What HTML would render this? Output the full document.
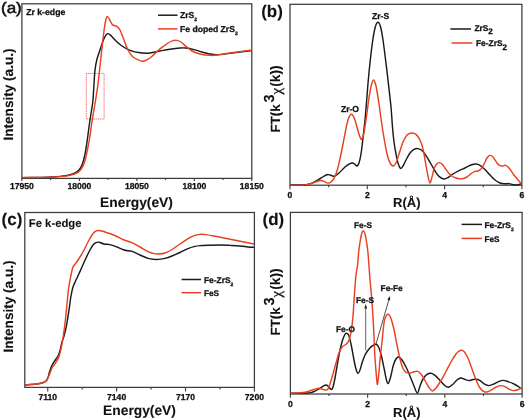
<!DOCTYPE html>
<html lang="en"><head><meta charset="utf-8"><title>XANES and EXAFS spectra</title>
<style>
html,body{margin:0;padding:0;background:#fff;}
body{width:525px;height:420px;overflow:hidden;}
svg{display:block;font-family:"Liberation Sans",Arial,sans-serif;fill:#111;text-rendering:geometricPrecision;}
</style></head><body>
<svg width="525" height="420" viewBox="0 0 525 420">
<rect width="525" height="420" fill="#fff"/>
<defs><clipPath id="ca"><rect x="21.30" y="3.20" width="231.10" height="175.90"/></clipPath><clipPath id="cb"><rect x="289.40" y="3.70" width="233.10" height="182.20"/></clipPath><clipPath id="cc"><rect x="24.20" y="211.90" width="230.80" height="176.20"/></clipPath><clipPath id="cd"><rect x="289.80" y="211.80" width="232.90" height="182.90"/></clipPath></defs>
<rect x="21.90" y="3.80" width="229.90" height="174.60" fill="none" stroke="#3c3c40" stroke-width="1.25"/>
<rect x="86.3" y="73.4" width="17.8" height="45.6" fill="none" stroke="#ee5548" stroke-width="0.9" stroke-dasharray="1.1 0.7"/>
<g clip-path="url(#ca)">
<path d="M21.60 177.60C24.67 177.57 34.93 177.50 40.00 177.40C45.07 177.30 47.67 177.30 52.00 177.00C56.33 176.70 62.33 176.20 66.00 175.60C69.67 175.00 71.83 174.33 74.00 173.40C76.17 172.47 77.60 171.57 79.00 170.00C80.40 168.43 81.40 166.67 82.40 164.00C83.40 161.33 84.23 157.67 85.00 154.00C85.77 150.33 86.40 146.00 87.00 142.00C87.60 138.00 88.10 133.67 88.60 130.00C89.10 126.33 89.50 123.33 90.00 120.00C90.50 116.67 91.10 113.33 91.60 110.00C92.10 106.67 92.60 104.33 93.00 100.00C93.40 95.67 93.67 89.00 94.00 84.00C94.33 79.00 94.50 74.17 95.00 70.00C95.50 65.83 96.17 62.33 97.00 59.00C97.83 55.67 99.00 53.00 100.00 50.00C101.00 47.00 102.07 43.40 103.00 41.00C103.93 38.60 104.77 36.83 105.60 35.60C106.43 34.37 107.10 33.60 108.00 33.60C108.90 33.60 109.67 34.37 111.00 35.60C112.33 36.83 114.17 39.27 116.00 41.00C117.83 42.73 119.67 44.43 122.00 46.00C124.33 47.57 127.00 49.27 130.00 50.40C133.00 51.53 136.67 52.37 140.00 52.80C143.33 53.23 146.67 53.30 150.00 53.00C153.33 52.70 156.67 51.63 160.00 51.00C163.33 50.37 166.67 49.70 170.00 49.20C173.33 48.70 177.33 48.20 180.00 48.00C182.67 47.80 183.67 47.73 186.00 48.00C188.33 48.27 191.33 48.93 194.00 49.60C196.67 50.27 199.33 51.27 202.00 52.00C204.67 52.73 207.33 53.57 210.00 54.00C212.67 54.43 214.67 54.70 218.00 54.60C221.33 54.50 226.33 53.83 230.00 53.40C233.67 52.97 236.33 52.47 240.00 52.00C243.67 51.53 250.00 50.83 252.00 50.60" fill="none" stroke="#1a1a1a" stroke-width="1.45" stroke-linejoin="round" stroke-linecap="butt"/>
<path d="M21.60 177.60C24.67 177.57 33.60 177.57 40.00 177.40C46.40 177.23 55.00 176.93 60.00 176.60C65.00 176.27 67.00 176.10 70.00 175.40C73.00 174.70 76.00 173.63 78.00 172.40C80.00 171.17 80.80 170.07 82.00 168.00C83.20 165.93 84.27 163.17 85.20 160.00C86.13 156.83 86.80 153.00 87.60 149.00C88.40 145.00 89.33 140.17 90.00 136.00C90.67 131.83 91.00 128.00 91.60 124.00C92.20 120.00 92.93 116.00 93.60 112.00C94.27 108.00 94.87 104.67 95.60 100.00C96.33 95.33 97.27 89.67 98.00 84.00C98.73 78.33 99.27 72.67 100.00 66.00C100.73 59.33 101.67 50.33 102.40 44.00C103.13 37.67 103.80 32.17 104.40 28.00C105.00 23.83 105.50 20.90 106.00 19.00C106.50 17.10 106.82 16.52 107.40 16.60C107.98 16.68 108.67 18.17 109.50 19.50C110.33 20.83 111.15 23.42 112.40 24.60C113.65 25.78 115.73 25.70 117.00 26.60C118.27 27.50 118.83 27.77 120.00 30.00C121.17 32.23 122.67 36.67 124.00 40.00C125.33 43.33 126.50 47.17 128.00 50.00C129.50 52.83 131.00 55.23 133.00 57.00C135.00 58.77 138.17 59.93 140.00 60.60C141.83 61.27 142.33 61.43 144.00 61.00C145.67 60.57 148.00 59.43 150.00 58.00C152.00 56.57 154.00 54.17 156.00 52.40C158.00 50.63 160.00 48.97 162.00 47.40C164.00 45.83 166.17 44.13 168.00 43.00C169.83 41.87 171.50 41.03 173.00 40.60C174.50 40.17 175.67 40.17 177.00 40.40C178.33 40.63 179.50 41.00 181.00 42.00C182.50 43.00 184.17 44.90 186.00 46.40C187.83 47.90 189.67 49.73 192.00 51.00C194.33 52.27 197.00 53.27 200.00 54.00C203.00 54.73 207.00 55.23 210.00 55.40C213.00 55.57 214.67 55.40 218.00 55.00C221.33 54.60 226.33 53.57 230.00 53.00C233.67 52.43 236.33 52.10 240.00 51.60C243.67 51.10 250.00 50.27 252.00 50.00" fill="none" stroke="#e9401f" stroke-width="1.45" stroke-linejoin="round" stroke-linecap="butt"/>
</g>
<path d="M21.90 178.40v2.60M79.38 178.40v2.60M136.85 178.40v2.60M194.33 178.40v2.60M251.80 178.40v2.60" stroke="#3c3c40" stroke-width="1.10" fill="none"/>
<path d="M50.64 178.40v1.50M108.11 178.40v1.50M165.59 178.40v1.50M223.06 178.40v1.50" stroke="#3c3c40" stroke-width="1.10" fill="none"/>
<text x="21.90" y="189.10" font-size="8.60" font-weight="bold" text-anchor="middle" stroke="#111" stroke-width="0.28">17950</text>
<text x="79.38" y="189.10" font-size="8.60" font-weight="bold" text-anchor="middle" stroke="#111" stroke-width="0.28">18000</text>
<text x="136.85" y="189.10" font-size="8.60" font-weight="bold" text-anchor="middle" stroke="#111" stroke-width="0.28">18050</text>
<text x="194.33" y="189.10" font-size="8.60" font-weight="bold" text-anchor="middle" stroke="#111" stroke-width="0.28">18100</text>
<text x="251.80" y="189.10" font-size="8.60" font-weight="bold" text-anchor="middle" stroke="#111" stroke-width="0.28">18150</text>
<text x="136.50" y="207.00" font-size="13.80" font-weight="bold" text-anchor="middle" stroke="#111" stroke-width="0.10">Energy(eV)</text>
<text transform="translate(13.3,94.5) rotate(-90)" font-size="13.6" font-weight="bold" stroke="#111" stroke-width="0.1" text-anchor="middle">Intensity (a.u.)</text>
<text transform="translate(1.0,12.9) scale(1.12,1)" font-size="15.2" stroke="#111" stroke-width="0.55">(a)</text>
<text x="26.20" y="14.90" font-size="8.70" font-weight="bold" text-anchor="start" stroke="#111" stroke-width="0.28">Zr k-edge</text>
<path d="M158 15.2H177.5" stroke="#1a1a1a" stroke-width="1.5"/>
<path d="M158 28.9H177.5" stroke="#e9401f" stroke-width="1.5"/>
<text x="180.00" y="18.00" font-size="8.60" font-weight="bold" text-anchor="start" stroke="#111" stroke-width="0.28">ZrS<tspan font-size="5.00" dy="3.10">2</tspan></text>
<text x="180.00" y="32.00" font-size="8.60" font-weight="bold" text-anchor="start" stroke="#111" stroke-width="0.28">Fe doped ZrS<tspan font-size="5.00" dy="3.10">2</tspan></text>
<rect x="290.00" y="4.30" width="231.90" height="180.90" fill="none" stroke="#3c3c40" stroke-width="1.25"/>
<g clip-path="url(#cb)">
<path d="M290.40 185.00C292.50 185.00 300.07 185.12 303.00 185.00C305.93 184.88 306.33 184.70 308.00 184.30C309.67 183.90 310.83 183.65 313.00 182.60C315.17 181.55 319.00 179.17 321.00 178.00C323.00 176.83 323.78 176.17 325.00 175.60C326.22 175.03 327.13 174.58 328.30 174.60C329.47 174.62 330.97 175.43 332.00 175.70C333.03 175.97 333.33 176.65 334.50 176.20C335.67 175.75 337.25 174.53 339.00 173.00C340.75 171.47 343.17 168.57 345.00 167.00C346.83 165.43 348.73 164.27 350.00 163.60C351.27 162.93 351.77 162.87 352.60 163.00C353.43 163.13 354.27 163.90 355.00 164.40C355.73 164.90 356.33 166.23 357.00 166.00C357.67 165.77 358.33 165.00 359.00 163.00C359.67 161.00 360.33 158.17 361.00 154.00C361.67 149.83 362.33 143.67 363.00 138.00C363.67 132.33 364.38 126.33 365.00 120.00C365.62 113.67 366.15 106.67 366.70 100.00C367.25 93.33 367.70 86.67 368.30 80.00C368.90 73.33 369.55 66.67 370.30 60.00C371.05 53.33 371.97 45.50 372.80 40.00C373.63 34.50 374.45 29.95 375.30 27.00C376.15 24.05 377.02 22.30 377.90 22.30C378.78 22.30 379.75 24.05 380.60 27.00C381.45 29.95 382.17 34.50 383.00 40.00C383.83 45.50 384.77 53.33 385.60 60.00C386.43 66.67 387.08 72.00 388.00 80.00C388.92 88.00 390.37 100.33 391.10 108.00C391.83 115.67 391.92 120.33 392.40 126.00C392.88 131.67 393.40 137.33 394.00 142.00C394.60 146.67 395.33 150.50 396.00 154.00C396.67 157.50 397.23 160.60 398.00 163.00C398.77 165.40 399.77 167.90 400.60 168.40C401.43 168.90 402.10 167.40 403.00 166.00C403.90 164.60 404.83 162.17 406.00 160.00C407.17 157.83 408.67 154.77 410.00 153.00C411.33 151.23 412.77 150.13 414.00 149.40C415.23 148.67 416.17 148.50 417.40 148.60C418.63 148.70 419.97 148.83 421.40 150.00C422.83 151.17 424.40 153.27 426.00 155.60C427.60 157.93 429.50 161.43 431.00 164.00C432.50 166.57 433.67 168.93 435.00 171.00C436.33 173.07 437.50 175.07 439.00 176.40C440.50 177.73 442.50 178.80 444.00 179.00C445.50 179.20 446.50 178.43 448.00 177.60C449.50 176.77 451.17 175.17 453.00 174.00C454.83 172.83 457.00 171.60 459.00 170.60C461.00 169.60 463.00 168.93 465.00 168.00C467.00 167.07 469.17 165.67 471.00 165.00C472.83 164.33 474.50 163.93 476.00 164.00C477.50 164.07 478.50 164.47 480.00 165.40C481.50 166.33 483.33 168.00 485.00 169.60C486.67 171.20 488.33 173.27 490.00 175.00C491.67 176.73 493.33 178.67 495.00 180.00C496.67 181.33 498.33 182.37 500.00 183.00C501.67 183.63 503.50 183.70 505.00 183.80C506.50 183.90 507.67 183.47 509.00 183.60C510.33 183.73 511.67 184.37 513.00 184.60C514.33 184.83 515.60 185.17 517.00 185.00C518.40 184.83 520.67 183.83 521.40 183.60" fill="none" stroke="#1a1a1a" stroke-width="1.45" stroke-linejoin="round" stroke-linecap="butt"/>
<path d="M290.40 185.10C292.33 185.10 299.23 185.18 302.00 185.10C304.77 185.02 305.33 184.92 307.00 184.60C308.67 184.28 310.33 183.72 312.00 183.20C313.67 182.68 315.55 181.95 317.00 181.50C318.45 181.05 319.53 180.52 320.70 180.50C321.87 180.48 322.80 180.97 324.00 181.40C325.20 181.83 326.73 183.00 327.90 183.10C329.07 183.20 329.98 182.78 331.00 182.00C332.02 181.22 332.95 180.40 334.00 178.40C335.05 176.40 336.30 173.32 337.30 170.00C338.30 166.68 339.05 162.83 340.00 158.50C340.95 154.17 342.05 148.75 343.00 144.00C343.95 139.25 344.82 134.17 345.70 130.00C346.58 125.83 347.35 121.63 348.30 119.00C349.25 116.37 350.35 114.20 351.40 114.20C352.45 114.20 353.52 116.28 354.60 119.00C355.68 121.72 357.00 127.50 357.90 130.50C358.80 133.50 359.38 135.52 360.00 137.00C360.62 138.48 360.98 139.90 361.60 139.40C362.22 138.90 362.97 137.23 363.70 134.00C364.43 130.77 365.12 126.00 366.00 120.00C366.88 114.00 368.10 103.83 369.00 98.00C369.90 92.17 370.65 88.00 371.40 85.00C372.15 82.00 372.73 79.83 373.50 80.00C374.27 80.17 375.08 82.00 376.00 86.00C376.92 90.00 378.08 98.00 379.00 104.00C379.92 110.00 380.67 116.33 381.50 122.00C382.33 127.67 383.15 133.00 384.00 138.00C384.85 143.00 385.70 148.07 386.60 152.00C387.50 155.93 388.33 159.27 389.40 161.60C390.47 163.93 391.90 165.77 393.00 166.00C394.10 166.23 395.00 165.00 396.00 163.00C397.00 161.00 397.83 157.50 399.00 154.00C400.17 150.50 401.67 145.17 403.00 142.00C404.33 138.83 405.60 136.50 407.00 135.00C408.40 133.50 409.90 133.10 411.40 133.00C412.90 132.90 414.57 133.23 416.00 134.40C417.43 135.57 418.83 137.57 420.00 140.00C421.17 142.43 422.10 145.33 423.00 149.00C423.90 152.67 424.57 157.50 425.40 162.00C426.23 166.50 427.23 172.50 428.00 176.00C428.77 179.50 429.33 182.83 430.00 183.00C430.67 183.17 431.33 179.33 432.00 177.00C432.67 174.67 433.23 171.17 434.00 169.00C434.77 166.83 435.77 165.07 436.60 164.00C437.43 162.93 438.10 162.60 439.00 162.60C439.90 162.60 440.83 162.85 442.00 164.00C443.17 165.15 444.50 167.58 446.00 169.50C447.50 171.42 449.17 174.03 451.00 175.50C452.83 176.97 455.17 177.75 457.00 178.30C458.83 178.85 460.33 179.02 462.00 178.80C463.67 178.58 465.33 177.97 467.00 177.00C468.67 176.03 470.67 173.93 472.00 173.00C473.33 172.07 474.00 171.73 475.00 171.40C476.00 171.07 477.00 171.40 478.00 171.00C479.00 170.60 480.00 170.17 481.00 169.00C482.00 167.83 483.00 165.83 484.00 164.00C485.00 162.17 486.00 159.43 487.00 158.00C488.00 156.57 489.00 155.57 490.00 155.40C491.00 155.23 491.83 155.73 493.00 157.00C494.17 158.27 495.83 161.57 497.00 163.00C498.17 164.43 499.00 165.10 500.00 165.60C501.00 166.10 502.07 166.03 503.00 166.00C503.93 165.97 504.60 165.07 505.60 165.40C506.60 165.73 507.60 166.40 509.00 168.00C510.40 169.60 512.50 173.00 514.00 175.00C515.50 177.00 516.77 178.57 518.00 180.00C519.23 181.43 520.83 183.00 521.40 183.60" fill="none" stroke="#e9401f" stroke-width="1.45" stroke-linejoin="round" stroke-linecap="butt"/>
</g>
<path d="M290.00 185.20v4.10M367.30 185.20v4.10M444.60 185.20v4.10M521.90 185.20v4.10" stroke="#3c3c40" stroke-width="1.10" fill="none"/>
<path d="M328.65 185.20v2.10M405.95 185.20v2.10M483.25 185.20v2.10" stroke="#3c3c40" stroke-width="1.10" fill="none"/>
<text x="290.00" y="198.10" font-size="8.60" font-weight="bold" text-anchor="middle" stroke="#111" stroke-width="0.28">0</text>
<text x="367.30" y="198.10" font-size="8.60" font-weight="bold" text-anchor="middle" stroke="#111" stroke-width="0.28">2</text>
<text x="444.60" y="198.10" font-size="8.60" font-weight="bold" text-anchor="middle" stroke="#111" stroke-width="0.28">4</text>
<text x="521.90" y="198.10" font-size="8.60" font-weight="bold" text-anchor="middle" stroke="#111" stroke-width="0.28">6</text>
<text x="406.80" y="207.20" font-size="13.00" font-weight="bold" text-anchor="middle" stroke="#111" stroke-width="0.10">R(Å)</text>
<g transform="translate(279.90,131.40) rotate(-90)" font-weight="bold" stroke="#111" stroke-width="0.1">
<text x="-1" y="0" font-size="13.3">FT(k</text>
<text x="28.8" y="-6.1" font-size="14.5">3</text>
<text x="36.9" y="1.3" font-size="14.9" font-weight="normal" stroke-width="0.3" font-family="'Liberation Serif',serif">χ</text>
<text x="44.6" y="0" font-size="13.8">(k))</text>
</g>
<text x="261.20" y="17.40" font-size="17.00" font-weight="bold" text-anchor="start" stroke="#111" stroke-width="0.10">(b)</text>
<text x="372.00" y="19.40" font-size="8.60" font-weight="bold" text-anchor="start" stroke="#111" stroke-width="0.28">Zr-S</text>
<text x="340.90" y="112.40" font-size="8.60" font-weight="bold" text-anchor="start" stroke="#111" stroke-width="0.28">Zr-O</text>
<path d="M450.4 29H471" stroke="#1a1a1a" stroke-width="1.5"/>
<path d="M451.6 43H472.4" stroke="#e9401f" stroke-width="1.5"/>
<text x="474.40" y="31.00" font-size="8.40" font-weight="bold" text-anchor="start" stroke="#111" stroke-width="0.28">ZrS<tspan font-size="8.00" dy="3.40">2</tspan></text>
<text x="476.00" y="46.40" font-size="8.40" font-weight="bold" text-anchor="start" stroke="#111" stroke-width="0.28">Fe-ZrS<tspan font-size="8.00" dy="3.40">2</tspan></text>
<rect x="24.80" y="212.50" width="229.60" height="174.90" fill="none" stroke="#3c3c40" stroke-width="1.25"/>
<g clip-path="url(#cc)">
<path d="M25.30 385.00C27.08 384.83 33.22 384.33 36.00 384.00C38.78 383.67 40.33 383.50 42.00 383.00C43.67 382.50 45.00 381.92 46.00 381.00C47.00 380.08 47.42 379.00 48.00 377.50C48.58 376.00 48.90 373.92 49.50 372.00C50.10 370.08 50.68 367.92 51.60 366.00C52.52 364.08 53.93 362.17 55.00 360.50C56.07 358.83 57.17 357.67 58.00 356.00C58.83 354.33 59.33 352.83 60.00 350.50C60.67 348.17 61.33 344.42 62.00 342.00C62.67 339.58 63.27 338.67 64.00 336.00C64.73 333.33 65.57 330.33 66.40 326.00C67.23 321.67 68.23 315.00 69.00 310.00C69.77 305.00 70.33 299.83 71.00 296.00C71.67 292.17 72.17 289.67 73.00 287.00C73.83 284.33 75.33 281.50 76.00 280.00C76.67 278.50 76.00 280.17 77.00 278.00C78.00 275.83 80.50 270.33 82.00 267.00C83.50 263.67 84.67 260.83 86.00 258.00C87.33 255.17 88.83 252.17 90.00 250.00C91.17 247.83 92.00 246.23 93.00 245.00C94.00 243.77 95.00 243.07 96.00 242.60C97.00 242.13 97.67 241.97 99.00 242.20C100.33 242.43 102.17 243.60 104.00 244.00C105.83 244.40 108.00 244.17 110.00 244.60C112.00 245.03 113.67 245.70 116.00 246.60C118.33 247.50 121.33 249.20 124.00 250.00C126.67 250.80 129.33 250.57 132.00 251.40C134.67 252.23 137.33 253.83 140.00 255.00C142.67 256.17 145.67 257.67 148.00 258.40C150.33 259.13 152.17 259.23 154.00 259.40C155.83 259.57 157.17 259.57 159.00 259.40C160.83 259.23 162.83 258.97 165.00 258.40C167.17 257.83 169.50 256.98 172.00 256.00C174.50 255.02 177.33 253.73 180.00 252.50C182.67 251.27 185.67 249.58 188.00 248.60C190.33 247.62 192.00 247.10 194.00 246.60C196.00 246.10 197.33 245.83 200.00 245.60C202.67 245.37 206.67 245.30 210.00 245.20C213.33 245.10 216.67 244.97 220.00 245.00C223.33 245.03 226.67 245.23 230.00 245.40C233.33 245.57 237.00 245.73 240.00 246.00C243.00 246.27 245.67 246.77 248.00 247.00C250.33 247.23 253.00 247.33 254.00 247.40" fill="none" stroke="#1a1a1a" stroke-width="1.45" stroke-linejoin="round" stroke-linecap="butt"/>
<path d="M25.30 385.00C27.08 384.83 33.22 384.33 36.00 384.00C38.78 383.67 40.33 383.50 42.00 383.00C43.67 382.50 45.00 381.83 46.00 381.00C47.00 380.17 47.33 379.33 48.00 378.00C48.67 376.67 49.33 374.67 50.00 373.00C50.67 371.33 51.17 369.57 52.00 368.00C52.83 366.43 54.00 365.10 55.00 363.60C56.00 362.10 57.17 360.77 58.00 359.00C58.83 357.23 59.33 355.50 60.00 353.00C60.67 350.50 61.40 347.17 62.00 344.00C62.60 340.83 63.00 338.33 63.60 334.00C64.20 329.67 65.03 323.00 65.60 318.00C66.17 313.00 66.53 308.67 67.00 304.00C67.47 299.33 67.90 294.00 68.40 290.00C68.90 286.00 69.57 282.50 70.00 280.00C70.43 277.50 70.50 277.17 71.00 275.00C71.50 272.83 72.17 269.00 73.00 267.00C73.83 265.00 74.83 264.67 76.00 263.00C77.17 261.33 78.67 259.17 80.00 257.00C81.33 254.83 82.67 252.50 84.00 250.00C85.33 247.50 86.67 244.50 88.00 242.00C89.33 239.50 90.83 236.73 92.00 235.00C93.17 233.27 94.00 232.35 95.00 231.60C96.00 230.85 96.83 230.60 98.00 230.50C99.17 230.40 100.83 230.75 102.00 231.00C103.17 231.25 103.67 231.57 105.00 232.00C106.33 232.43 108.17 232.93 110.00 233.60C111.83 234.27 113.67 234.93 116.00 236.00C118.33 237.07 121.33 238.90 124.00 240.00C126.67 241.10 129.33 241.43 132.00 242.60C134.67 243.77 137.33 245.50 140.00 247.00C142.67 248.50 145.67 250.50 148.00 251.60C150.33 252.70 152.17 253.20 154.00 253.60C155.83 254.00 157.17 254.10 159.00 254.00C160.83 253.90 162.83 253.75 165.00 253.00C167.17 252.25 169.50 251.00 172.00 249.50C174.50 248.00 177.33 245.82 180.00 244.00C182.67 242.18 185.67 240.00 188.00 238.60C190.33 237.20 192.00 236.30 194.00 235.60C196.00 234.90 198.00 234.57 200.00 234.40C202.00 234.23 203.67 234.33 206.00 234.60C208.33 234.87 211.00 235.43 214.00 236.00C217.00 236.57 220.67 237.33 224.00 238.00C227.33 238.67 230.67 239.33 234.00 240.00C237.33 240.67 240.67 241.33 244.00 242.00C247.33 242.67 252.33 243.67 254.00 244.00" fill="none" stroke="#e9401f" stroke-width="1.45" stroke-linejoin="round" stroke-linecap="butt"/>
</g>
<path d="M47.76 387.40v4.00M116.64 387.40v4.00M185.52 387.40v4.00M254.40 387.40v4.00" stroke="#3c3c40" stroke-width="1.10" fill="none"/>
<path d="M82.20 387.40v2.00M151.08 387.40v2.00M219.96 387.40v2.00" stroke="#3c3c40" stroke-width="1.10" fill="none"/>
<text x="47.76" y="400.40" font-size="8.60" font-weight="bold" text-anchor="middle" stroke="#111" stroke-width="0.28">7110</text>
<text x="116.64" y="400.40" font-size="8.60" font-weight="bold" text-anchor="middle" stroke="#111" stroke-width="0.28">7140</text>
<text x="185.52" y="400.40" font-size="8.60" font-weight="bold" text-anchor="middle" stroke="#111" stroke-width="0.28">7170</text>
<text x="254.40" y="400.40" font-size="8.60" font-weight="bold" text-anchor="middle" stroke="#111" stroke-width="0.28">7200</text>
<text x="139.50" y="415.20" font-size="13.80" font-weight="bold" text-anchor="middle" stroke="#111" stroke-width="0.10">Energy(eV)</text>
<text transform="translate(13.3,306.5) rotate(-90)" font-size="13.6" font-weight="bold" stroke="#111" stroke-width="0.1" text-anchor="middle">Intensity (a.u.)</text>
<text x="1.60" y="225.40" font-size="17.00" font-weight="bold" text-anchor="start" stroke="#111" stroke-width="0.10">(c)</text>
<text x="28.80" y="226.50" font-size="11.30" font-weight="bold" text-anchor="start" stroke="#111" stroke-width="0.10">Fe k-edge</text>
<path d="M181.6 279.5H201" stroke="#1a1a1a" stroke-width="1.5"/>
<path d="M181.6 292.7H201" stroke="#e9401f" stroke-width="1.5"/>
<text x="204.00" y="282.60" font-size="8.40" font-weight="bold" text-anchor="start" stroke="#111" stroke-width="0.28">Fe-ZrS<tspan font-size="5.00" dy="3.10">2</tspan></text>
<text x="204.00" y="295.70" font-size="8.20" font-weight="bold" text-anchor="start" stroke="#111" stroke-width="0.28">FeS</text>
<rect x="290.40" y="212.40" width="231.70" height="181.60" fill="none" stroke="#3c3c40" stroke-width="1.25"/>
<g clip-path="url(#cd)">
<path d="M290.40 393.30C292.00 393.28 297.40 393.25 300.00 393.20C302.60 393.15 304.17 393.10 306.00 393.00C307.83 392.90 309.50 392.90 311.00 392.60C312.50 392.30 313.67 391.80 315.00 391.20C316.33 390.60 317.75 389.77 319.00 389.00C320.25 388.23 321.33 387.27 322.50 386.60C323.67 385.93 324.98 385.00 326.00 385.00C327.02 385.00 327.73 385.85 328.60 386.60C329.47 387.35 330.47 389.43 331.20 389.50C331.93 389.57 332.37 388.92 333.00 387.00C333.63 385.08 334.27 381.83 335.00 378.00C335.73 374.17 336.57 368.67 337.40 364.00C338.23 359.33 339.13 354.00 340.00 350.00C340.87 346.00 341.77 342.60 342.60 340.00C343.43 337.40 344.27 335.50 345.00 334.40C345.73 333.30 346.33 333.13 347.00 333.40C347.67 333.67 348.27 333.90 349.00 336.00C349.73 338.10 350.57 342.00 351.40 346.00C352.23 350.00 353.23 356.17 354.00 360.00C354.77 363.83 355.33 366.77 356.00 369.00C356.67 371.23 357.33 373.23 358.00 373.40C358.67 373.57 359.33 371.73 360.00 370.00C360.67 368.27 361.17 365.50 362.00 363.00C362.83 360.50 363.83 357.33 365.00 355.00C366.17 352.67 367.67 350.60 369.00 349.00C370.33 347.40 371.83 346.20 373.00 345.40C374.17 344.60 375.07 343.93 376.00 344.20C376.93 344.47 377.70 345.03 378.60 347.00C379.50 348.97 380.50 352.50 381.40 356.00C382.30 359.50 383.23 364.33 384.00 368.00C384.77 371.67 385.33 375.40 386.00 378.00C386.67 380.60 387.23 383.77 388.00 383.60C388.77 383.43 389.70 380.10 390.60 377.00C391.50 373.90 392.50 368.00 393.40 365.00C394.30 362.00 395.13 360.33 396.00 359.00C396.87 357.67 397.60 356.83 398.60 357.00C399.60 357.17 400.77 358.33 402.00 360.00C403.23 361.67 404.67 364.33 406.00 367.00C407.33 369.67 408.67 372.83 410.00 376.00C411.33 379.17 412.77 383.17 414.00 386.00C415.23 388.83 416.40 393.00 417.40 393.00C418.40 393.00 419.07 388.33 420.00 386.00C420.93 383.67 421.83 380.93 423.00 379.00C424.17 377.07 425.67 375.37 427.00 374.40C428.33 373.43 429.67 373.03 431.00 373.20C432.33 373.37 433.50 374.18 435.00 375.40C436.50 376.62 438.33 378.77 440.00 380.50C441.67 382.23 443.57 384.68 445.00 385.80C446.43 386.92 447.27 387.47 448.60 387.20C449.93 386.93 451.60 385.40 453.00 384.20C454.40 383.00 455.67 381.03 457.00 380.00C458.33 378.97 459.67 378.10 461.00 378.00C462.33 377.90 463.67 378.97 465.00 379.40C466.33 379.83 467.67 380.58 469.00 380.60C470.33 380.62 471.67 379.72 473.00 379.50C474.33 379.28 475.83 379.12 477.00 379.30C478.17 379.48 478.67 379.75 480.00 380.60C481.33 381.45 483.50 383.57 485.00 384.40C486.50 385.23 487.50 385.67 489.00 385.60C490.50 385.53 492.33 384.70 494.00 384.00C495.67 383.30 497.50 382.00 499.00 381.40C500.50 380.80 501.50 380.37 503.00 380.40C504.50 380.43 506.17 381.00 508.00 381.60C509.83 382.20 512.17 383.10 514.00 384.00C515.83 384.90 517.77 386.23 519.00 387.00C520.23 387.77 521.00 388.33 521.40 388.60" fill="none" stroke="#1a1a1a" stroke-width="1.45" stroke-linejoin="round" stroke-linecap="butt"/>
<path d="M290.40 393.20C292.00 393.13 297.57 392.95 300.00 392.80C302.43 392.65 303.33 392.63 305.00 392.30C306.67 391.97 308.50 391.27 310.00 390.80C311.50 390.33 312.53 389.92 314.00 389.50C315.47 389.08 317.38 388.35 318.80 388.30C320.22 388.25 321.30 388.90 322.50 389.20C323.70 389.50 325.08 390.13 326.00 390.10C326.92 390.07 327.33 390.02 328.00 389.00C328.67 387.98 329.17 386.50 330.00 384.00C330.83 381.50 332.00 377.50 333.00 374.00C334.00 370.50 335.00 366.50 336.00 363.00C337.00 359.50 338.00 355.67 339.00 353.00C340.00 350.33 341.00 348.33 342.00 347.00C343.00 345.67 344.10 345.67 345.00 345.00C345.90 344.33 346.67 344.00 347.40 343.00C348.13 342.00 348.73 341.17 349.40 339.00C350.07 336.83 350.80 333.83 351.40 330.00C352.00 326.17 352.50 321.83 353.00 316.00C353.50 310.17 353.90 301.83 354.40 295.00C354.90 288.17 355.47 280.00 356.00 275.00C356.53 270.00 357.15 268.83 357.60 265.00C358.05 261.17 358.33 255.58 358.70 252.00C359.07 248.42 359.37 246.33 359.80 243.50C360.23 240.67 360.87 236.95 361.30 235.00C361.73 233.05 362.07 232.48 362.40 231.80C362.73 231.12 363.00 230.90 363.30 230.90C363.60 230.90 363.87 231.12 364.20 231.80C364.53 232.48 364.87 233.05 365.30 235.00C365.73 236.95 366.37 240.67 366.80 243.50C367.23 246.33 367.55 248.42 367.90 252.00C368.25 255.58 368.52 260.00 368.90 265.00C369.28 270.00 369.75 276.67 370.20 282.00C370.65 287.33 371.13 291.17 371.60 297.00C372.07 302.83 372.60 310.33 373.00 317.00C373.40 323.67 373.67 330.17 374.00 337.00C374.33 343.83 374.57 351.17 375.00 358.00C375.43 364.83 376.20 373.60 376.60 378.00C377.00 382.40 377.07 384.73 377.40 384.40C377.73 384.07 378.17 380.07 378.60 376.00C379.03 371.93 379.43 365.67 380.00 360.00C380.57 354.33 381.30 348.42 382.00 342.00C382.70 335.58 383.47 325.90 384.20 321.50C384.93 317.10 385.78 316.82 386.40 315.60C387.02 314.38 387.40 314.25 387.90 314.20C388.40 314.15 388.88 314.58 389.40 315.30C389.92 316.02 390.23 316.13 391.00 318.50C391.77 320.87 393.00 325.08 394.00 329.50C395.00 333.92 396.00 340.08 397.00 345.00C398.00 349.92 399.00 355.08 400.00 359.00C401.00 362.92 402.00 366.27 403.00 368.50C404.00 370.73 404.83 371.65 406.00 372.40C407.17 373.15 408.67 373.10 410.00 373.00C411.33 372.90 412.77 372.07 414.00 371.80C415.23 371.53 416.23 371.03 417.40 371.40C418.57 371.77 419.73 372.48 421.00 374.00C422.27 375.52 423.67 378.25 425.00 380.50C426.33 382.75 427.75 385.75 429.00 387.50C430.25 389.25 431.33 390.92 432.50 391.00C433.67 391.08 434.58 389.75 436.00 388.00C437.42 386.25 439.33 383.25 441.00 380.50C442.67 377.75 444.33 374.58 446.00 371.50C447.67 368.42 449.33 364.92 451.00 362.00C452.67 359.08 454.67 355.80 456.00 354.00C457.33 352.20 458.13 351.83 459.00 351.20C459.87 350.57 460.37 350.17 461.20 350.20C462.03 350.23 462.95 350.27 464.00 351.40C465.05 352.53 466.25 354.32 467.50 357.00C468.75 359.68 470.17 363.92 471.50 367.50C472.83 371.08 474.08 375.08 475.50 378.50C476.92 381.92 478.58 385.82 480.00 388.00C481.42 390.18 482.83 390.93 484.00 391.60C485.17 392.27 485.67 392.33 487.00 392.00C488.33 391.67 490.33 390.50 492.00 389.60C493.67 388.70 495.50 387.27 497.00 386.60C498.50 385.93 499.67 385.60 501.00 385.60C502.33 385.60 503.50 385.93 505.00 386.60C506.50 387.27 508.50 388.93 510.00 389.60C511.50 390.27 512.67 390.60 514.00 390.60C515.33 390.60 516.77 390.03 518.00 389.60C519.23 389.17 520.83 388.27 521.40 388.00" fill="none" stroke="#e9401f" stroke-width="1.45" stroke-linejoin="round" stroke-linecap="butt"/>
</g>
<path d="M290.40 394.00v3.70M367.63 394.00v3.70M444.87 394.00v3.70M522.10 394.00v3.70" stroke="#3c3c40" stroke-width="1.10" fill="none"/>
<path d="M329.02 394.00v2.00M406.25 394.00v2.00M483.48 394.00v2.00" stroke="#3c3c40" stroke-width="1.10" fill="none"/>
<text x="290.40" y="407.00" font-size="8.60" font-weight="bold" text-anchor="middle" stroke="#111" stroke-width="0.28">0</text>
<text x="367.63" y="407.00" font-size="8.60" font-weight="bold" text-anchor="middle" stroke="#111" stroke-width="0.28">2</text>
<text x="444.87" y="407.00" font-size="8.60" font-weight="bold" text-anchor="middle" stroke="#111" stroke-width="0.28">4</text>
<text x="522.10" y="407.00" font-size="8.60" font-weight="bold" text-anchor="middle" stroke="#111" stroke-width="0.28">6</text>
<text x="406.80" y="416.70" font-size="13.00" font-weight="bold" text-anchor="middle" stroke="#111" stroke-width="0.10">R(Å)</text>
<g transform="translate(279.90,334.40) rotate(-90)" font-weight="bold" stroke="#111" stroke-width="0.1">
<text x="-1" y="0" font-size="13.3">FT(k</text>
<text x="28.8" y="-6.1" font-size="14.5">3</text>
<text x="36.9" y="1.3" font-size="14.9" font-weight="normal" stroke-width="0.3" font-family="'Liberation Serif',serif">χ</text>
<text x="44.6" y="0" font-size="13.8">(k))</text>
</g>
<text x="262.50" y="225.40" font-size="17.00" font-weight="bold" text-anchor="start" stroke="#111" stroke-width="0.10">(d)</text>
<text x="354.00" y="228.40" font-size="8.30" font-weight="bold" text-anchor="start" stroke="#111" stroke-width="0.28">Fe-S</text>
<text x="380.60" y="291.00" font-size="8.30" font-weight="bold" text-anchor="start" stroke="#111" stroke-width="0.28">Fe-Fe</text>
<text x="356.00" y="302.60" font-size="8.30" font-weight="bold" text-anchor="start" stroke="#111" stroke-width="0.28">Fe-S</text>
<text x="336.00" y="332.00" font-size="8.30" font-weight="bold" text-anchor="start" stroke="#111" stroke-width="0.28">Fe-O</text>
<path d="M365.7 350.4V306" stroke="#222" stroke-width="0.7" fill="none"/>
<path d="M365.7 304l-1.4 4.6h2.8z" fill="#222"/>
<path d="M376 344L389.4 298" stroke="#222" stroke-width="0.8" fill="none"/>
<path d="M390 296l-2.7 3.6 2.9 0.85z" fill="#222"/>
<path d="M461.6 224.4H482" stroke="#1a1a1a" stroke-width="1.5"/>
<path d="M461.6 238.4H482" stroke="#e9401f" stroke-width="1.5"/>
<text x="484.40" y="227.60" font-size="8.40" font-weight="bold" text-anchor="start" stroke="#111" stroke-width="0.28">Fe-ZrS<tspan font-size="5.00" dy="3.10">2</tspan></text>
<text x="484.40" y="241.60" font-size="8.20" font-weight="bold" text-anchor="start" stroke="#111" stroke-width="0.28">FeS</text>
</svg>
</body></html>
